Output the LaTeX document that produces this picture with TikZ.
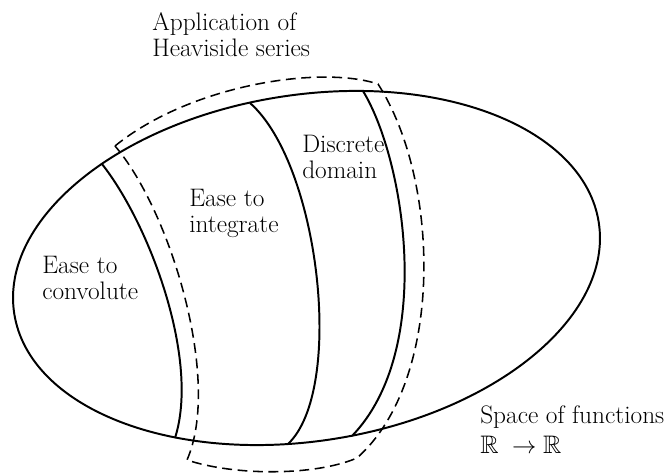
\documentclass[tikz,border=0pt]{standalone}
\usepackage{amsmath,amssymb}
\usepackage{tikz}

\begin{document}
\begin{tikzpicture}[x=0.025cm,y=0.025cm,
    region/.style={line width=1.4pt},
    band/.style={line width=1.1pt,dash pattern=on 7pt off 4pt},
    lbl/.style={anchor=base west,align=left,inner sep=0pt,font=\fontsize{18pt}{18.5pt}\selectfont}]
  \useasboundingbox (0,0) rectangle (665,473);
  % whole space
  \draw[region,rotate around={8.9:(306.5,205)}] (306.5,205) ellipse [x radius=295.8,y radius=173.1];
  % borders between the parts
  \coordinate (convT) at (102,309);
  \coordinate (convB) at (175,35);
  \coordinate (integT) at (250,370);
  \coordinate (integB) at (288,29);
  \coordinate (discrT) at (363,382);
  \coordinate (discrB) at (352,37);
  \draw[region] (convT) .. controls (150,248) and (200,113) .. (convB);
  \draw[region] (integT) .. controls (320,308) and (345,83) .. (integB);
  \draw[region] (discrT) .. controls (405,313) and (435,123) .. (discrB);
  % Heaviside band
  \coordinate (hsA) at (115,327);
  \coordinate (hsB) at (378,389);
  \coordinate (hsC) at (357,15);
  \coordinate (hsD) at (187,13);
  \draw[band] (hsA) .. controls (190,388) and (320,408) .. (hsB)
    .. controls (440,293) and (445,93) .. (hsC)
    .. controls (315,-3) and (235,-3) .. (hsD)
    .. controls (222,93) and (170,263) .. (hsA);
  \node[lbl] (app) at (152,416) {Application of\\Heaviside series};
  \node[lbl] (conv) at (42,173) {Ease to\\convolute};
  \node[lbl] (integ) at (189,240) {Ease to\\integrate};
  \node[lbl] (discr) at (302,294) {Discrete\\domain};
  \node[lbl] (space) at (480,19) {Space of functions\\[3pt]$\mathbb{R}\;\to\mathbb{R}$};
\end{tikzpicture}
\end{document}
